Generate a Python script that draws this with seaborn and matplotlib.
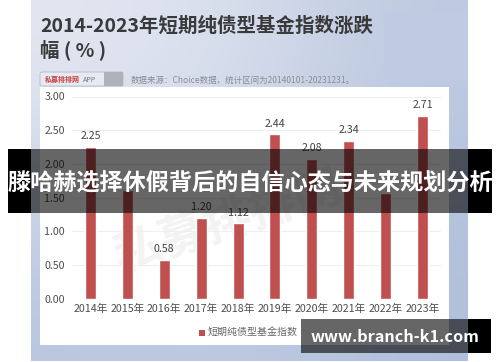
import numpy as np
import pandas as pd
import seaborn as sns
import matplotlib.pyplot as plt
from matplotlib.patches import Rectangle, FancyBboxPatch

years = ['2014年', '2015年', '2016年', '2017年', '2018年', '2019年', '2020年', '2021年', '2022年', '2023年']
values = [2.25, 1.61, 0.58, 1.20, 1.12, 2.44, 2.08, 2.34, 1.57, 2.71]
hidden_labels = ['2015年', '2022年']
yticks = [0, 0.5, 1.0, 1.5, 2.0, 2.5, 3.0]
series_name = '短期纯债型基金指数'
title = '2014-2023年短期纯债型基金指数涨跌\n幅 ( % )'
source = '数据来源：Choice数据，统计区间为20140101-20231231。'
banner = '滕哈赫选择休假背后的自信心态与未来规划分析'
site = 'www.branch-k1.com'

W, H = 500, 362
sns.set_theme(style='white')
plt.rcParams['font.family'] = ['Noto Sans CJK SC', 'DejaVu Sans']

df = pd.DataFrame({'year': years, 'value': values})

fig = plt.figure(figsize=(W / 100, H / 100), dpi=100, facecolor='white')

# page in pixel coords, y down
page = fig.add_axes([0, 0, 1, 1], zorder=0)
page.axis('off')

# blue panel with a soft gradient
grad = np.array([[[226, 231, 241], [214, 221, 235], [190, 202, 225]],
                 [[208, 216, 233], [208, 216, 233], [182, 196, 222]],
                 [[186, 199, 223], [190, 202, 225], [176, 191, 219]]], dtype=float) / 255
page.imshow(grad, extent=(31, 468, 361, 0), interpolation='bicubic', aspect='auto', zorder=0)
page.set_xlim(0, W)
page.set_ylim(H, 0)
page.add_patch(Rectangle((384, 12), 84, 68, fc='#bfcbe3', ec='none', zorder=0.5))
page.add_patch(Rectangle((40, 87), 409, 258, fc='white', ec='none', zorder=1))

page.text(40, 38.5, title, fontsize=14, fontweight='heavy', color='#3a3a3c', va='center', linespacing=1.2, zorder=2)

# search box
page.add_patch(FancyBboxPatch((40, 72), 83, 14, boxstyle='round,pad=0,rounding_size=2', fc='#e6eaf2', ec='#b5b8c0', lw=0.6, zorder=2))
page.add_patch(Rectangle((104, 72), 19, 14, fc='#aeb2bb', ec='none', zorder=3))
page.text(45, 79.5, '私募排排网', fontsize=5, color='#c8413f', fontweight='bold', va='center', zorder=3)
page.text(83, 79.5, 'APP', fontsize=5, color='#777777', va='center', zorder=3)
page.text(131, 80, source, fontsize=6.1, color='#8a8d94', va='center', zorder=2)

# watermark
page.text(228, 222, '私募排排网', fontsize=34, color='#f3f3f3', rotation=18, ha='center', va='center', fontweight='bold', zorder=1.5)

# chart
ax = fig.add_axes([72 / W, 1 - 298.7 / H, 369 / W, 202.2 / H], zorder=1)
ax.patch.set_alpha(0)
sns.barplot(data=df, x='year', y='value', color='#c0504f', saturation=1, width=0.3, ax=ax, label=series_name, legend=False, zorder=3)
ax.set_ylim(0, 3)
ax.set_yticks(yticks, [f'{t:.2f}' for t in yticks])
ax.set_xlabel('')
ax.set_ylabel('')
ax.grid(axis='y', color='#efefef', lw=0.8)
ax.set_axisbelow(True)
sns.despine(ax=ax, left=True, bottom=True)
ax.tick_params(axis='both', length=0, labelsize=7.7, labelcolor='#4d4d4d', pad=4)
ax.tick_params(axis='y', pad=5)
for tick in ax.get_xticklabels() + ax.get_yticklabels():
    tick.set_fontweight('medium')
for i, v in enumerate(values):
    if years[i] in hidden_labels:
        continue
    ax.annotate(f'{v:.2f}', (i, v), xytext=(0, 4), textcoords='offset points', ha='center', va='bottom', fontsize=7.7, fontweight='medium', color='#444444')

# legend
page.add_patch(Rectangle((199, 330), 5.5, 5.5, fc='#c0504f', ec='none', zorder=2))
page.text(208, 332.5, series_name, fontsize=7.2, color='#666666', va='center', zorder=2)

# overlays on top of everything
top = fig.add_axes([0, 0, 1, 1], zorder=5)
top.set_xlim(0, W)
top.set_ylim(H, 0)
top.axis('off')
top.add_patch(Rectangle((8, 149), 484, 64, fc='black', alpha=0.6, ec='none'))
top.add_patch(Rectangle((8, 149), 23, 64, fc='black', ec='none'))
top.add_patch(Rectangle((468, 149), 24, 64, fc='black', ec='none'))
top.text(250, 184, banner, fontsize=16.7, fontweight='bold', color='white', ha='center', va='center')
top.add_patch(Rectangle((301, 319), 190, 34, fc='black', alpha=0.6, ec='none'))
top.add_patch(Rectangle((468, 319), 23, 34, fc='black', ec='none'))
top.text(395, 336.5, site, fontsize=11.7, fontweight='bold', color='white', ha='center', va='center')

fig.savefig('out.png', dpi=100)
